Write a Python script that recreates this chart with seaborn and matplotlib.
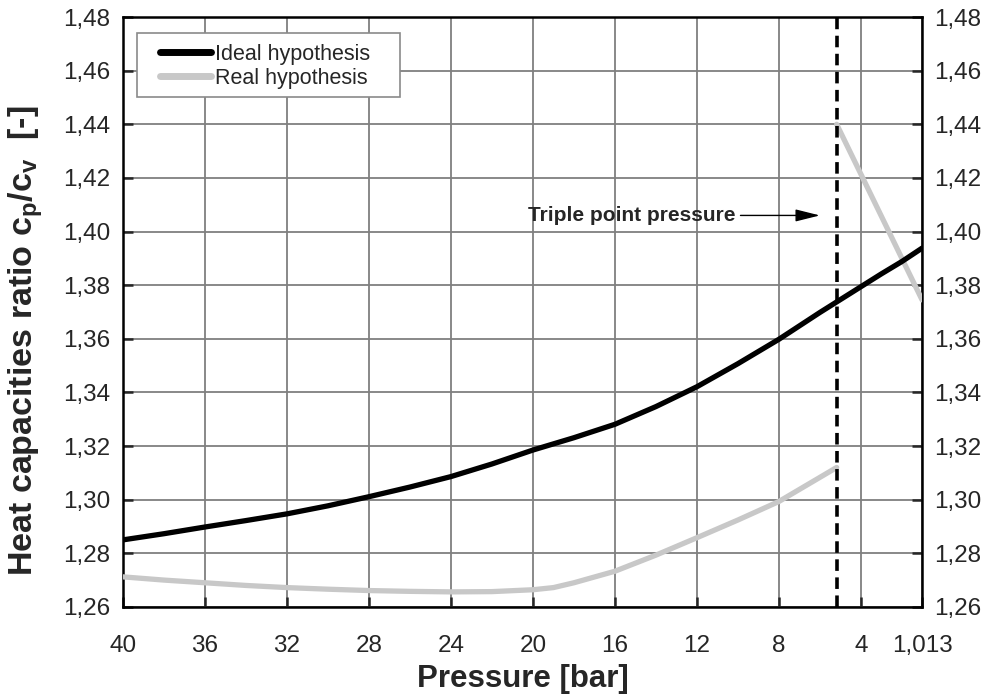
import matplotlib
matplotlib.use("Agg")
import matplotlib.pyplot as plt
import seaborn as sns
import pandas as pd
from matplotlib.patches import Rectangle
from matplotlib.ticker import FuncFormatter, FixedLocator

# ---- data ----
ideal_p = [40, 38, 36, 34, 32, 30, 28, 26, 24, 22, 20, 18, 16, 14, 12, 10, 8, 7, 6, 5, 4, 3, 2, 1.013]
ideal_g = [1.2850, 1.2873, 1.2898, 1.2922, 1.2947, 1.2977, 1.3011, 1.3047, 1.3086, 1.3133, 1.3185,
           1.3231, 1.3281, 1.3347, 1.3421, 1.3507, 1.3598, 1.3648, 1.3698, 1.3746, 1.3794, 1.3842,
           1.3888, 1.3938]

real_low_p = [40, 38, 36, 34, 32, 30, 28, 26, 24, 22, 20, 19, 18, 16, 14, 12, 10, 8, 7, 6, 5.18]
real_low_g = [1.2712, 1.2700, 1.2690, 1.2680, 1.2672, 1.2666, 1.2661, 1.2658, 1.2656, 1.2657, 1.2664,
              1.2672, 1.2690, 1.2733, 1.2793, 1.2858, 1.2924, 1.2993, 1.3038, 1.3083, 1.3120]
real_high_p = [5.18, 1.013]
real_high_g = [1.4400, 1.3745]

triple_p = 5.18
x_ticks = [40, 36, 32, 28, 24, 20, 16, 12, 8, 4, 1.013]
y_ticks = [1.26, 1.28, 1.30, 1.32, 1.34, 1.36, 1.38, 1.40, 1.42, 1.44, 1.46, 1.48]

sns.set_style("ticks")
plt.rcParams['font.family'] = ['Liberation Sans', 'DejaVu Sans']
plt.rcParams['mathtext.fontset'] = 'custom'
plt.rcParams['mathtext.rm'] = 'Liberation Sans'
plt.rcParams['mathtext.bf'] = 'Liberation Sans:bold'
plt.rcParams['mathtext.it'] = 'Liberation Sans:italic'

fig = plt.figure(figsize=(9.92, 7.0), dpi=100)
ax = fig.add_axes([0.124, 0.133, 0.8055, 0.8427])

df_ideal = pd.DataFrame({"p": ideal_p, "g": ideal_g})
df_low = pd.DataFrame({"p": real_low_p, "g": real_low_g})
df_high = pd.DataFrame({"p": real_high_p, "g": real_high_g})

sns.lineplot(data=df_ideal, x="p", y="g", ax=ax, color="black", lw=3.8, sort=False,
             label="Ideal hypothesis", zorder=4)
sns.lineplot(data=df_low, x="p", y="g", ax=ax, color="#c8c8c8", lw=3.8, sort=False,
             label="Real hypothesis", zorder=3)
sns.lineplot(data=df_high, x="p", y="g", ax=ax, color="#c8c8c8", lw=3.8, sort=False,
             legend=False, zorder=3)

ax.axvline(triple_p, color="black", lw=2.6, ls=(0, (3.2, 1.8)), zorder=5)

ax.annotate("Triple point pressure", xy=(6.0, 1.406), xytext=(10.1, 1.406),
            ha="right", va="center", fontsize=15, fontweight="bold",
            arrowprops=dict(arrowstyle="-|>,head_length=1.0,head_width=0.25",
                            color="black", lw=1.0, shrinkA=1, shrinkB=0))

ax.set_xlim(40, 1.013)
ax.set_ylim(1.26, 1.48)
ax.xaxis.set_major_locator(FixedLocator(x_ticks))
ax.yaxis.set_major_locator(FixedLocator(y_ticks))

def xfmt(v, pos):
    if abs(v - 1.013) < 1e-6:
        return "1,013"
    return f"{v:.0f}"

ax.xaxis.set_major_formatter(FuncFormatter(xfmt))
ax.yaxis.set_major_formatter(FuncFormatter(lambda v, pos: f"{v:.2f}".replace(".", ",")))

ax.grid(True, color="#7f7f7f", lw=1.3)
ax.set_axisbelow(True)
for s in ax.spines.values():
    s.set_linewidth(1.8)
    s.set_color("black")
    s.set_visible(True)

ax.tick_params(axis="both", direction="in", length=7, width=1.8, labelsize=17.5,
               right=True, labelright=True, top=False)
ax.tick_params(axis="x", pad=20)
ax.tick_params(axis="y", pad=9)

ax.set_xlabel("Pressure [bar]", fontsize=22.5, fontweight="bold", labelpad=5)
ax.set_ylabel(r"Heat capacities ratio c$_\mathbf{p}$/c$_\mathbf{v}$  [-]", fontsize=24.5,
              fontweight="bold")
ax.yaxis.set_label_coords(-0.0976, 0.452)

# legend frame drawn as a patch, content placed inside it
ax.add_patch(Rectangle((0.0175, 0.864), 0.329, 0.109, transform=ax.transAxes,
                       facecolor="white", edgecolor="#8a8a8a", lw=1.2, zorder=6))
leg = ax.legend(loc="upper left", bbox_to_anchor=(0.046, 0.955), fontsize=15.5,
                frameon=False, handlelength=2.4, handletextpad=0.15, borderpad=0.0,
                labelspacing=0.15, borderaxespad=0.0)
leg.set_zorder(7)
for h in leg.get_lines():
    h.set_linewidth(5)

fig.savefig("out.png", dpi=100)
